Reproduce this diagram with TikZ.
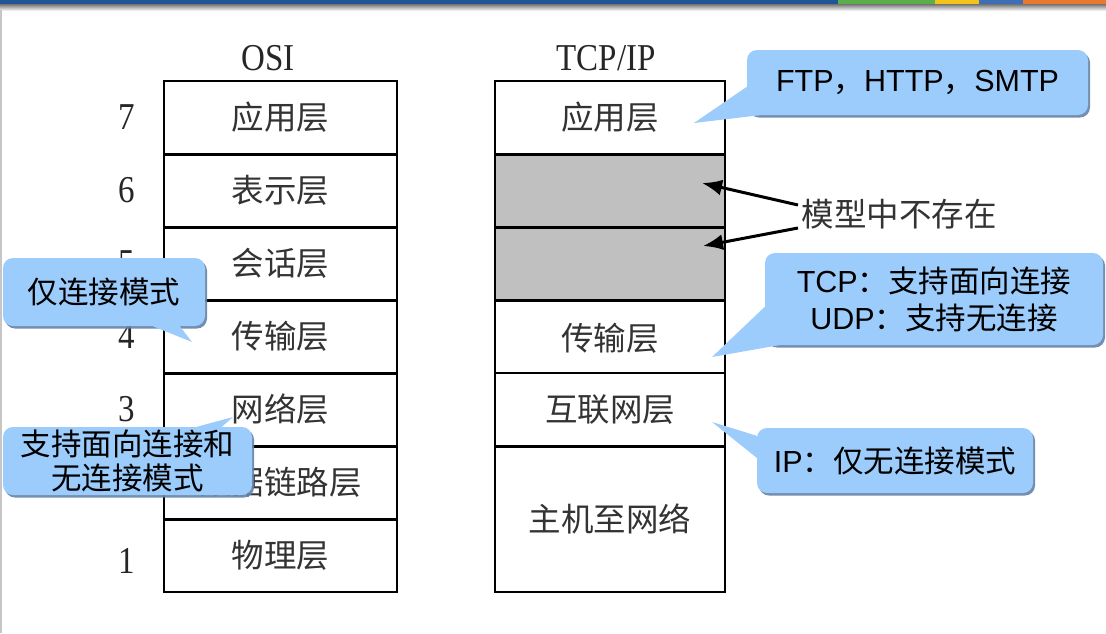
\documentclass[tikz,border=0pt]{standalone}
\usepackage{fontspec}
\setmainfont{Liberation Serif}
\newfontfamily\cjk{Noto Sans CJK SC}
\newfontfamily\arial{Liberation Sans}
\usetikzlibrary{arrows.meta,shadows,calc}
\definecolor{bubblefill}{RGB}{155,204,252}
\definecolor{bubbleshadow}{RGB}{100,130,168}
\definecolor{barblue}{RGB}{31,85,151}
\definecolor{bargreen}{RGB}{91,175,74}
\definecolor{baryellow}{RGB}{242,195,24}
\definecolor{barblueb}{RGB}{62,111,181}
\definecolor{barorange}{RGB}{232,121,46}
\definecolor{absentgray}{RGB}{192,192,192}
\newcommand\tabfont{\cjk\fontsize{32.5}{38}\selectfont}
\newcommand\bubfont{\fontsize{30.5}{37}\selectfont}
\newcommand\lat[1]{{\arial #1}}
\newcommand\zh[1]{{\cjk #1}}
\newcommand\tallnum[1]{\scalebox{1}[1.15]{#1}}
\begin{document}
\begin{tikzpicture}[x=1pt,y=-1pt,
  layer/.style={rectangle, minimum width=233pt, minimum height=73pt, inner sep=0pt, font=\tabfont, text=black!80},
  tlayer/.style={layer, minimum width=230pt},
  absent/.style={tlayer, fill=absentgray},
  frame/.style={line width=2pt},
  divider/.style={line width=2.8pt},
  num/.style={font=\fontsize{33}{38}\selectfont, text=black!85},
  bubble/.style={rectangle, rounded corners=10pt, fill=bubblefill, inner sep=0pt, align=center, font=\bubfont,
    drop shadow={shadow xshift=2pt, shadow yshift=-2.5pt, fill=bubbleshadow, opacity=0.9}},
  tail/.style={fill=bubblefill},
  pointer/.style={-{Latex[length=20pt,width=16pt]}, line width=3pt}]
\useasboundingbox (0,0) rectangle (1106,633);
% top bar
\fill[barblue] (0,0) rectangle (838,4);
\fill[bargreen] (838,0) rectangle (935,4);
\fill[baryellow] (935,0) rectangle (979,4);
\fill[barblueb] (979,0) rectangle (1023,4);
\fill[barorange] (1023,0) rectangle (1106,4);
\shade[top color=black!55, bottom color=white] (0,4) rectangle (1106,11);
\draw[gray!45, line width=1.5pt] (0.75,10) -- (0.75,633);
% headers
\node[num] (hosi) at (268,58) {\tallnum{OSI}};
\node[num] (htcp) at (606,58) {\tallnum{TCP/IP}};
% OSI layers
\node[layer] (o7) at (280.5,117.5) {应用层};
\node[layer] (o6) at (280.5,190.5) {表示层};
\node[layer] (o5) at (280.5,263.5) {会话层};
\node[layer] (o4) at (280.5,336.5) {传输层};
\node[layer] (o3) at (280.5,409.5) {网络层};
\node[layer] (o2) at (280.5,482.5) {数据链路层};
\node[layer] (o1) at (280.5,555.5) {物理层};
\draw[frame] (o7.north west) rectangle (o1.south east);
\foreach \a in {o7,o6,o5,o4,o3,o2} \draw[divider] (\a.south west) -- (\a.south east);
% numbers
\node[num] (n7) at (127,117.5) {\tallnum{7}};
\node[num] (n6) at (127,190.5) {\tallnum{6}};
\node[num] (n5) at (127,263.5) {\tallnum{5}};
\node[num] (n4) at (127,336.5) {\tallnum{4}};
\node[num] (n3) at (127,409.5) {\tallnum{3}};
\node[num] (n2) at (127,482.5) {\tallnum{2}};
\node[num] (n1) at (127,560.5) {\tallnum{1}};
% TCP/IP layers
\node[tlayer] (t7) at (610,117.5) {应用层};
\node[absent] (t6) at (610,190.5) {};
\node[absent] (t5) at (610,263.5) {};
\node[tlayer] (t4) at (610,338.5) {传输层};
\node[tlayer] (t3) at (610,409.5) {互联网层};
\node[tlayer, minimum height=146pt] (t1) at (610,519) {主机至网络};
\draw[frame] (t7.north west) rectangle (t1.south east);
\foreach \a in {t7,t6,t5,t3} \draw[divider] (\a.south west) -- (\a.south east);
\draw[divider] (t4.west |- 373,373) -- (t4.east |- 373,373);
% not present
\node[font=\tabfont, text=black!80] (ne) at (899,214) {模型中不存在};
\coordinate (g6) at (702,183);
\coordinate (g5) at (703,246);
\draw[pointer] ([yshift=9pt]ne.west) -- (g6);
\draw[pointer] ([yshift=-14pt]ne.west) -- (g5);
% callout 1
\coordinate (p1) at (694,123);
\node[bubble, minimum width=341pt, minimum height=65pt] (c1) at (917.5,82.5) {\lat{FTP}\zh{，}\lat{HTTP}\zh{，}\lat{SMTP}};
\fill[tail] ($(c1.north west)+(0,37)$) -- (p1) -- ($(c1.south west)+(13,0)$) -- cycle;
% callout 2
\coordinate (p2) at (712,357);
\node[bubble, minimum width=338pt, minimum height=92pt] (c2) at (934,299) {\lat{TCP}\zh{：支持面向连接}\\\lat{UDP}\zh{：支持无连接}};
\fill[tail] ($(c2.north west)+(0,54)$) -- (p2) -- ($(c2.south west)+(14,0)$) -- cycle;
% callout 3
\coordinate (p3) at (712,422);
\node[bubble, minimum width=276pt, minimum height=65pt] (c3) at (895,460.5) {\lat{IP}\zh{：仅无连接模式}};
\fill[tail] ($(c3.north west)+(0,8)$) -- (p3) -- ($(c3.north west)+(0,30)$) -- cycle;
% callout 4
\coordinate (p4) at (192,342);
\node[bubble, minimum width=202pt, minimum height=68pt] (c4) at (104,292) {\zh{仅连接模式}};
\fill[tail] ($(c4.south west)+(150,0)$) -- (p4) -- ($(c4.south west)+(177,0)$) -- cycle;
% callout 5
\coordinate (p5) at (233,417);
\node[bubble, minimum width=249pt, minimum height=68pt, font=\fontsize{30.5}{34}\selectfont] (c5) at (127.5,461) {\zh{支持面向连接和}\\\zh{无连接模式}};
\fill[tail] ($(c5.north west)+(194,0)$) -- (p5) -- ($(c5.north west)+(219,0)$) -- cycle;
\end{tikzpicture}
\end{document}
